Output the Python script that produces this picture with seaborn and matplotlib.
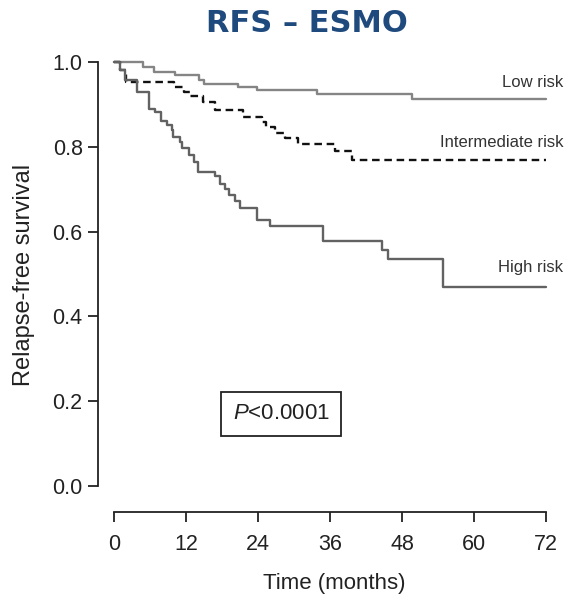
import numpy as np
import pandas as pd
import matplotlib
matplotlib.use("Agg")
import matplotlib.pyplot as plt
import seaborn as sns

# ---- data ----
groups = ["Low risk", "Intermediate risk", "High risk"]

low_t = [0, 4.9, 6.6, 10.2, 14.1, 15.0, 20.7, 23.8, 33.8, 49.6, 72]
low_s = [1.0, 0.988, 0.976, 0.969, 0.957, 0.947, 0.940, 0.933, 0.925, 0.913, 0.913]

int_t = [0, 1.0, 2.0, 10.0, 11.6, 12.6, 14.8, 16.8, 21.5, 24.6, 25.4, 26.8, 28.5, 30.7, 36.8, 39.6, 72]
int_s = [1.0, 0.98, 0.953, 0.941, 0.929, 0.920, 0.906, 0.887, 0.871, 0.859, 0.847, 0.832, 0.820, 0.806, 0.790, 0.769, 0.769]

high_t = [0, 1.0, 1.8, 3.8, 5.9, 6.8, 7.9, 8.8, 9.6, 9.9, 11.0, 11.4, 12.5, 13.4, 14.0, 16.9, 17.7,
          18.5, 19.1, 20.2, 21.0, 23.8, 26.0, 34.8, 44.6, 45.7, 54.8, 72]
high_s = [1.0, 0.98, 0.957, 0.929, 0.890, 0.882, 0.862, 0.851, 0.839, 0.823, 0.811, 0.796, 0.780,
          0.764, 0.740, 0.730, 0.712, 0.700, 0.686, 0.671, 0.655, 0.627, 0.613, 0.577, 0.556, 0.536,
          0.470, 0.470]

x_ticks = [0, 12, 24, 36, 48, 60, 72]
y_ticks = [0.0, 0.2, 0.4, 0.6, 0.8, 1.0]
title = "RFS – ESMO"
xlabel = "Time (months)"
ylabel = "Relapse-free survival"
p_text = r"$\it{P}$<0.0001"

df = pd.concat([
    pd.DataFrame({"time": low_t, "surv": low_s, "group": groups[0]}),
    pd.DataFrame({"time": int_t, "surv": int_s, "group": groups[1]}),
    pd.DataFrame({"time": high_t, "surv": high_s, "group": groups[2]}),
], ignore_index=True)

sns.set_theme(style="ticks")
plt.rcParams["font.family"] = ["Liberation Sans", "DejaVu Sans"]
plt.rcParams["mathtext.fontset"] = "custom"
plt.rcParams["mathtext.it"] = "Liberation Sans:italic"
plt.rcParams["mathtext.rm"] = "Liberation Sans"

W, H = 568, 608
fig = plt.figure(figsize=(W / 100, H / 100), dpi=100)
# axes in pixel coordinates
left_px, right_px, top_px, bottom_px = 98, 546, 62, 512
ax = fig.add_axes([left_px / W, 1 - bottom_px / H, (right_px - left_px) / W, (bottom_px - top_px) / H])

palette = {"Low risk": "#858585", "Intermediate risk": "#111111", "High risk": "#626262"}
dashes = {"Low risk": "", "Intermediate risk": (3.2, 2.0), "High risk": ""}

sns.lineplot(data=df, x="time", y="surv", hue="group", style="group",
             palette=palette, dashes=dashes, drawstyle="steps-post",
             estimator=None, sort=False, legend=False, linewidth=1.7, ax=ax)
for ln in ax.lines:
    ln.set_clip_on(False)

x0 = -(114 - left_px) / 6.0
ax.set_xlim(x0, 72)
ax.set_ylim(-(bottom_px - 486) / 424.0, 1.0)
ax.spines["top"].set_visible(False)
ax.spines["right"].set_visible(False)
ax.spines["bottom"].set_bounds(0, 72)
ax.spines["left"].set_bounds(0, 1)
for sp in ("bottom", "left"):
    ax.spines[sp].set_linewidth(1.3)
    ax.spines[sp].set_color("#222222")

ax.set_xticks(x_ticks)
ax.set_xticklabels([str(v) for v in x_ticks])
ax.set_yticks(y_ticks)
ax.set_yticklabels([f"{v:.1f}" for v in y_ticks])
ax.tick_params(axis="both", length=7, width=1.3, color="#222222", labelsize=15.5, labelcolor="#222222")
ax.tick_params(axis="y", pad=4)
ax.tick_params(axis="x", pad=9)

ax.set_xlabel(xlabel, fontsize=16, color="#222222", va="center")
ax.xaxis.set_label_coords((334 - left_px) / (right_px - left_px), (bottom_px - 584) / (bottom_px - top_px))
ax.set_ylabel(ylabel, fontsize=17, color="#222222", va="center")
ax.yaxis.set_label_coords((24 - left_px) / (right_px - left_px), (bottom_px - 275) / (bottom_px - top_px))

# curve labels
lab_kw = dict(fontsize=12, color="#333333", ha="right", va="center", clip_on=False)
x_lab = (563 - 114) / 6.0
ax.text(x_lab, (486 - 83) / 424.0, "Low risk", **lab_kw)
ax.text(x_lab, (486 - 143) / 424.0, "Intermediate risk", **lab_kw)
ax.text(x_lab, (486 - 268) / 424.0, "High risk", **lab_kw)

ax.text((281 - 114) / 6.0, (486 - 414) / 424.0, p_text, fontsize=16, color="#222222",
        ha="center", va="center",
        bbox=dict(boxstyle="square,pad=0.5", fc="white", ec="#222222", lw=1.3))

fig.text(307 / W, 1 - 23 / H, title, fontsize=22, fontweight="bold", color="#1F4A7E",
         family="DejaVu Sans", ha="center", va="center")

fig.savefig("out.png", dpi=100)
